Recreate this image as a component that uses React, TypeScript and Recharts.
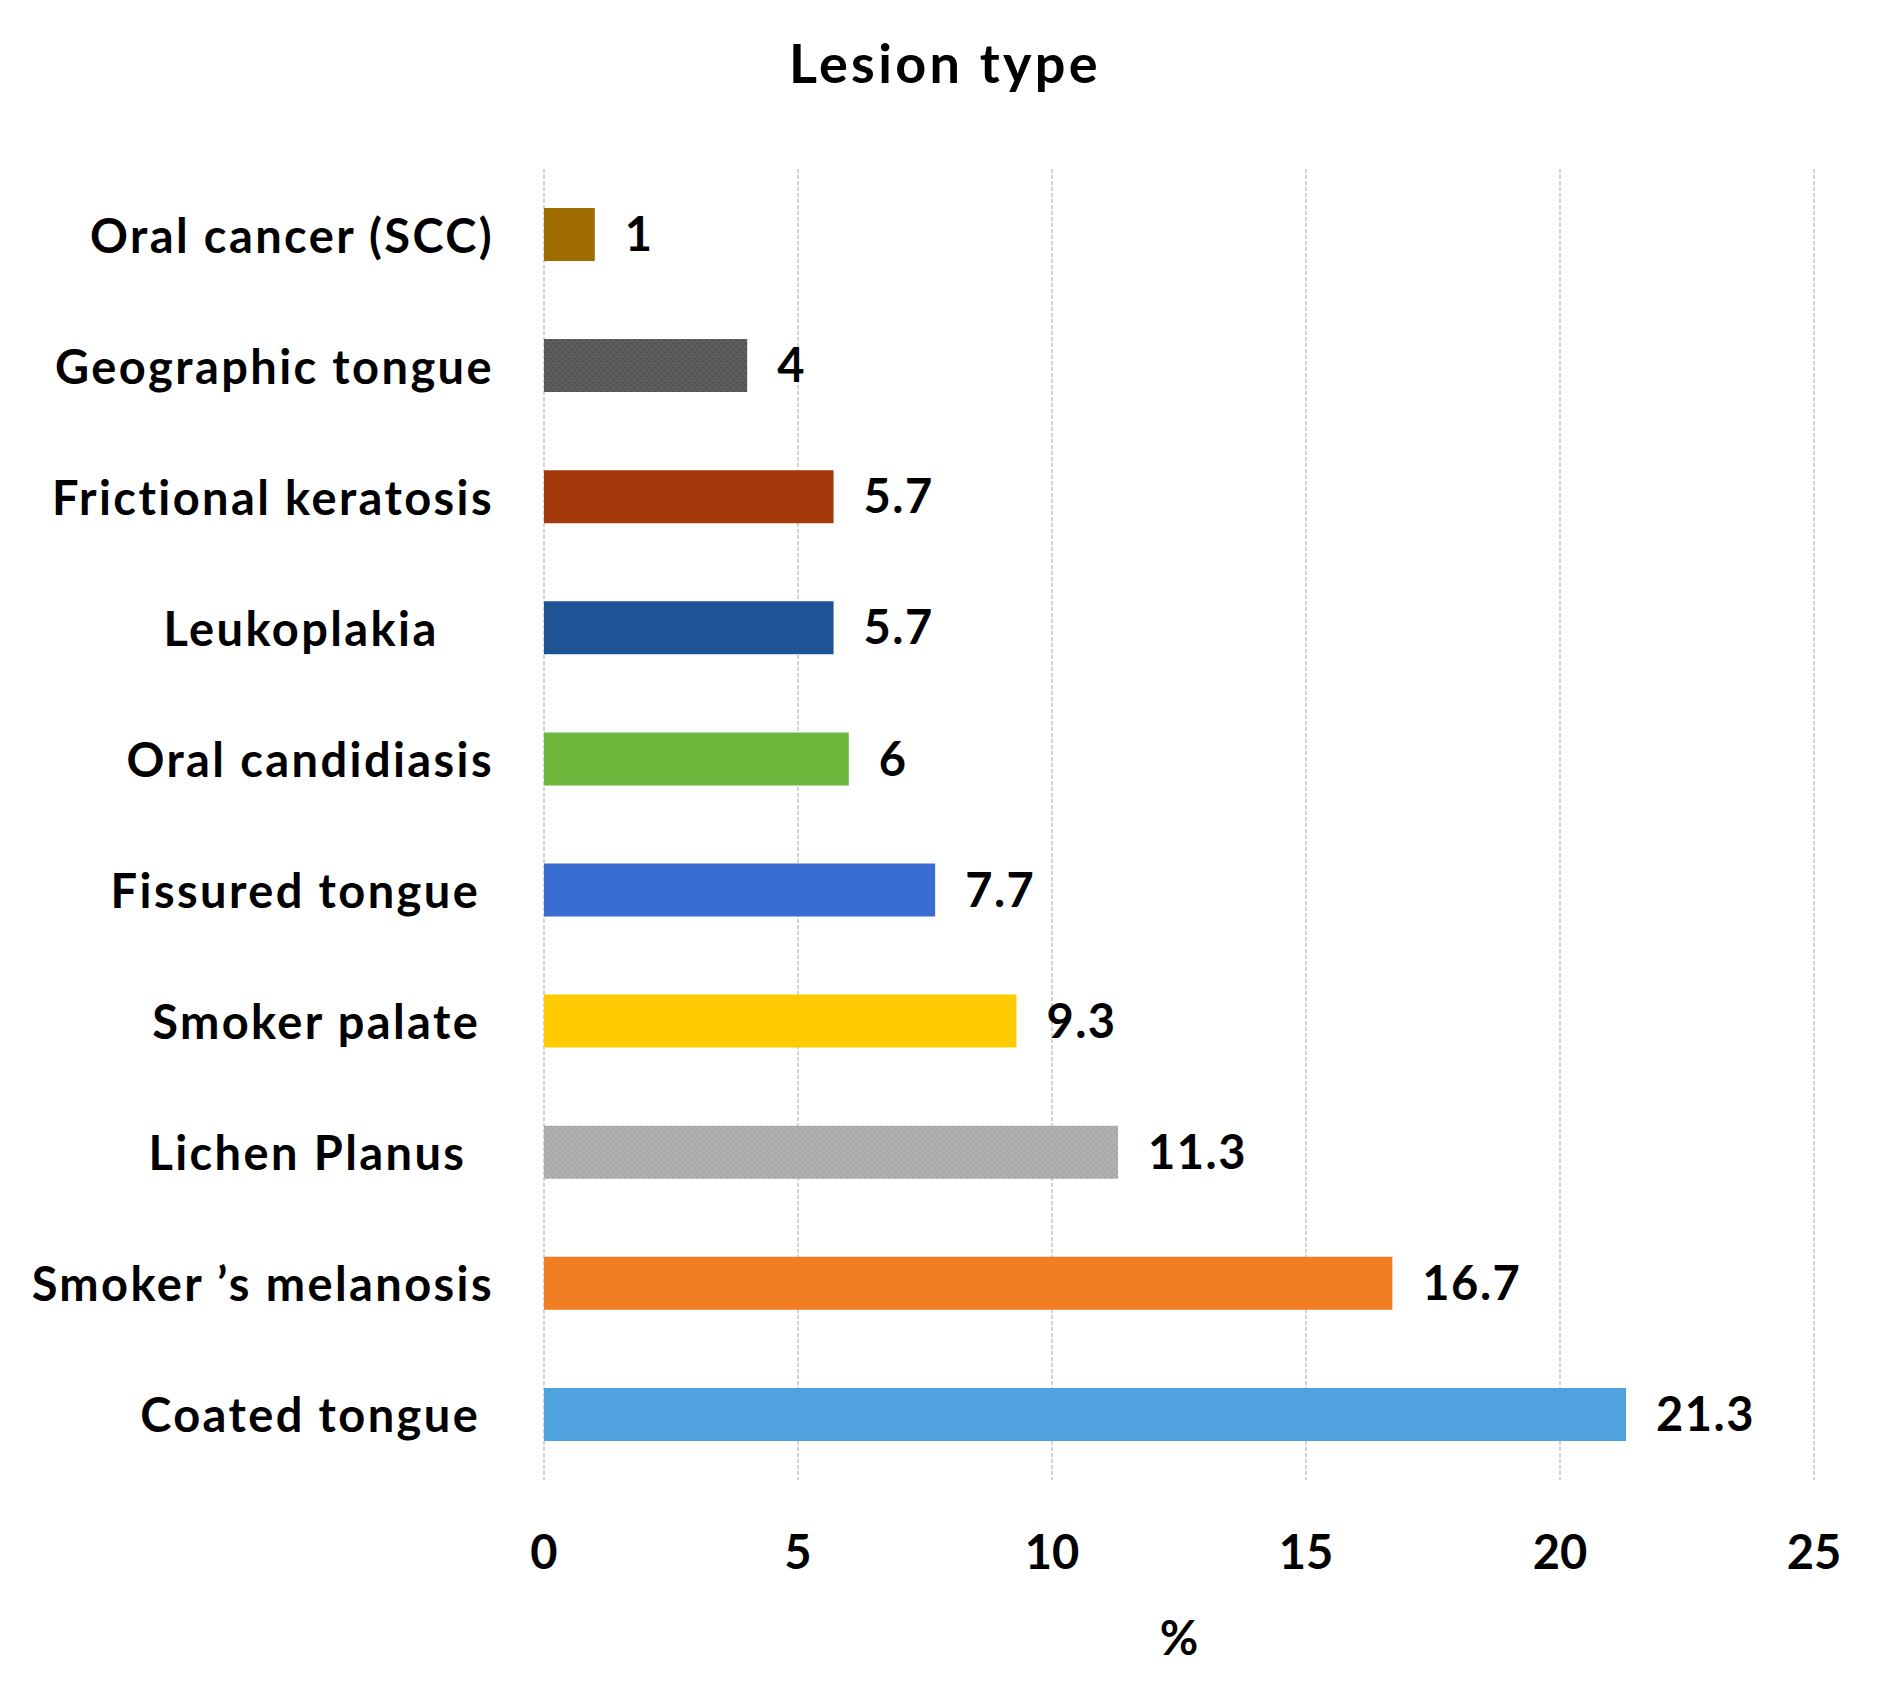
import React from "react";
import { BarChart, Bar, XAxis, YAxis, CartesianGrid, Cell, LabelList, Label } from "recharts";

// lesion categories, top to bottom; trailing spaces kept as in the source labels
const lesionTypes = [
  "Oral cancer (SCC)",
  "Geographic tongue",
  "Frictional keratosis",
  "Leukoplakia\u00A0\u00A0\u00A0\u00A0",
  "Oral candidiasis",
  "Fissured tongue\u00A0",
  "Smoker palate\u00A0",
  "Lichen Planus\u00A0\u00A0",
  "Smoker \u2019s melanosis",
  "Coated tongue\u00A0",
];

const percentages = [1, 4, 5.7, 5.7, 6, 7.7, 9.3, 11.3, 16.7, 21.3];

const barColors = [
  "#A06D00",
  "url(#dotsDark)",
  "#A4390B",
  "#1E5495",
  "#6DB83C",
  "#3A6DD1",
  "#FFCB00",
  "url(#dotsLight)",
  "#F17D25",
  "#4FA2DE",
];

const xTicks = [0, 5, 10, 15, 20, 25];

const data = lesionTypes.map((name, i) => ({ name, value: percentages[i] }));

const FONT = "Lato, 'Open Sans', sans-serif";

const CategoryTick = ({ x, y, payload }: any) => (
  <text
    x={x}
    y={y}
    textAnchor="end"
    dominantBaseline="central"
    fontFamily={FONT}
    fontWeight={700}
    fontSize={47}
    letterSpacing={2.4}
    fill="#000"
    style={{ whiteSpace: "pre" }}
  >
    {payload.value}
  </text>
);

// textured fills for the two grey bars
const Patterns = () => (
  <svg width={0} height={0} style={{ position: "absolute" }}>
    <defs>
      <pattern id="dotsDark" width={6} height={6} patternUnits="userSpaceOnUse">
        <rect width={6} height={6} fill="#5E5E5E" />
        <circle cx={1.5} cy={1.5} r={1.1} fill="#4A4A4A" />
        <circle cx={4.5} cy={4.5} r={1.1} fill="#4A4A4A" />
      </pattern>
      <pattern id="dotsLight" width={6} height={6} patternUnits="userSpaceOnUse">
        <rect width={6} height={6} fill="#B0B0B0" />
        <circle cx={1.5} cy={1.5} r={1.1} fill="#A0A0A0" />
        <circle cx={4.5} cy={4.5} r={1.1} fill="#A0A0A0" />
      </pattern>
    </defs>
  </svg>
);

const App = () => {
  return (
    <div style={{ position: "absolute", left: 0, top: 0, width: 1890, height: 1683, background: "#fff" }}>
      <Patterns />
      <div
        style={{
          position: "absolute",
          left: 0,
          top: 28,
          width: 1890,
          textAlign: "center",
          fontFamily: FONT,
          fontWeight: 700,
          fontSize: 54,
          letterSpacing: 3.3,
          lineHeight: "70px",
          color: "#000",
        }}
      >
        Lesion type
      </div>
      <BarChart
        width={1890}
        height={1683}
        data={data}
        layout="vertical"
        margin={{ top: 169, right: 76, bottom: 0, left: 0 }}
      >
        <CartesianGrid horizontal={false} stroke="#D3D3D3" strokeWidth={2} strokeDasharray="4 2" />
        <XAxis
          type="number"
          domain={[0, 25]}
          ticks={xTicks}
          axisLine={false}
          tickLine={false}
          tickSize={0}
          tickMargin={56}
          height={203}
          tick={{ fontFamily: FONT, fontWeight: 700, fontSize: 47, fill: "#000" }}
        >
          <Label
            value="%"
            position="insideBottom"
            offset={28}
            style={{ fontFamily: FONT, fontWeight: 700, fontSize: 47, fill: "#000" }}
          />
        </XAxis>
        <YAxis
          type="category"
          dataKey="name"
          width={544}
          axisLine={false}
          tickLine={false}
          tickSize={0}
          tickMargin={50}
          interval={0}
          tick={<CategoryTick />}
        />
        <Bar dataKey="value" barSize={53} isAnimationActive={false}>
          {data.map((d, i) => (
            <Cell key={d.name} fill={barColors[i]} />
          ))}
          <LabelList
            dataKey="value"
            position="right"
            offset={30}
            style={{ fontFamily: FONT, fontWeight: 700, fontSize: 47, fill: "#000", letterSpacing: 1.5 }}
          />
        </Bar>
      </BarChart>
    </div>
  );
};

export default App;
